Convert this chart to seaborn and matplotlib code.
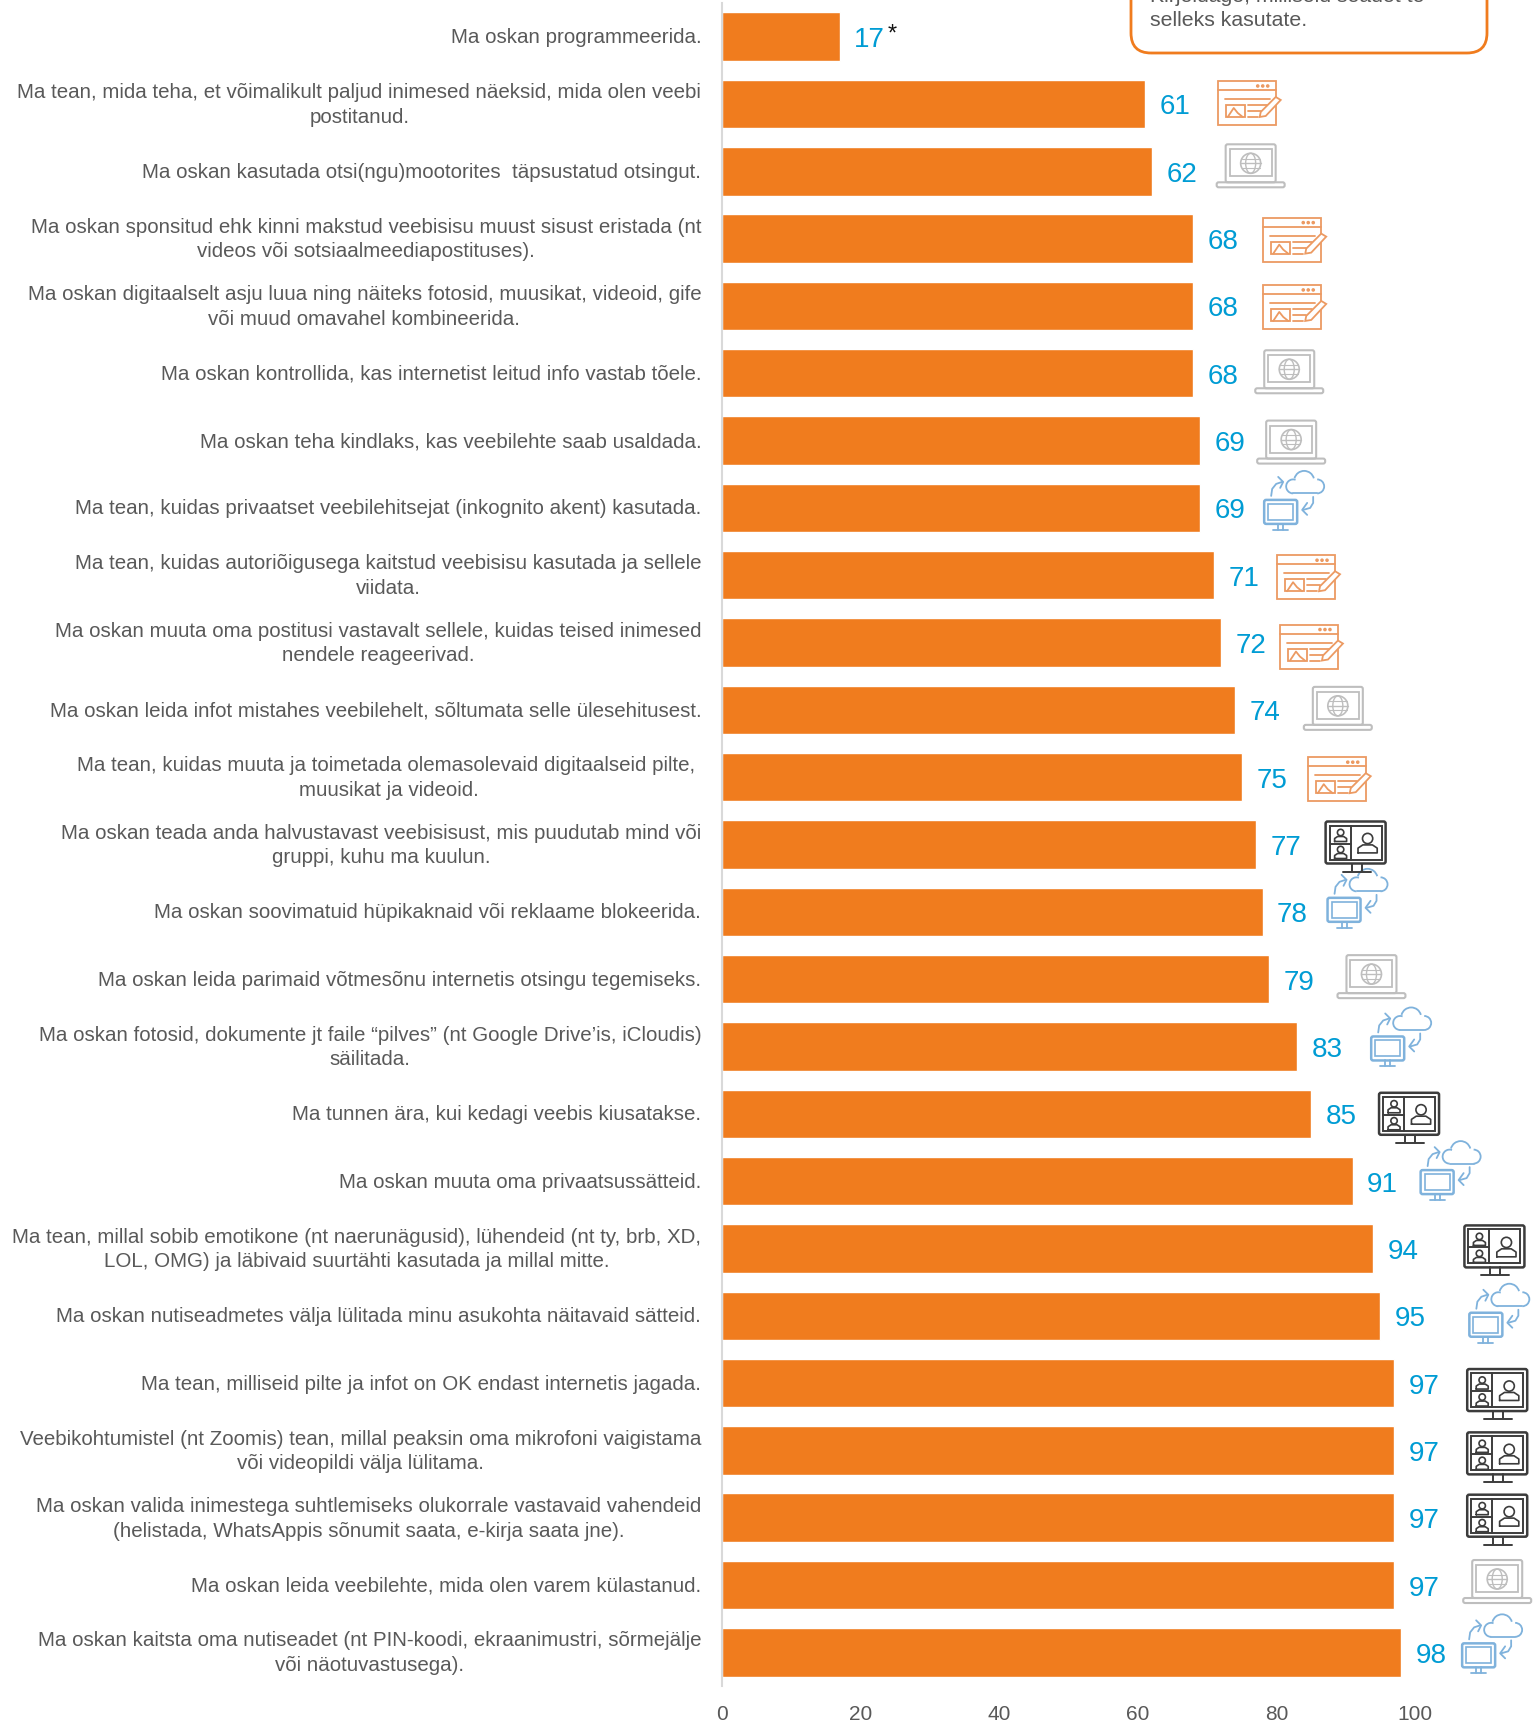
import matplotlib
matplotlib.use('Agg')
import matplotlib.pyplot as plt
import numpy as np
import pandas as pd
import seaborn as sns
from matplotlib.lines import Line2D
from matplotlib.patches import Circle, Ellipse, FancyBboxPatch, Rectangle, Arc, Polygon
from matplotlib.transforms import Affine2D

labels = [
    'Ma oskan programmeerida.',
    'Ma tean, mida teha, et võimalikult paljud inimesed näeksid, mida olen veebi\npostitanud.',
    'Ma oskan kasutada otsi(ngu)mootorites  täpsustatud otsingut.',
    'Ma oskan sponsitud ehk kinni makstud veebisisu muust sisust eristada (nt\nvideos või sotsiaalmeediapostituses).',
    'Ma oskan digitaalselt asju luua ning näiteks fotosid, muusikat, videoid, gife\nvõi muud omavahel kombineerida.',
    'Ma oskan kontrollida, kas internetist leitud info vastab tõele.',
    'Ma oskan teha kindlaks, kas veebilehte saab usaldada.',
    'Ma tean, kuidas privaatset veebilehitsejat (inkognito akent) kasutada.',
    'Ma tean, kuidas autoriõigusega kaitstud veebisisu kasutada ja sellele\nviidata.',
    'Ma oskan muuta oma postitusi vastavalt sellele, kuidas teised inimesed\nnendele reageerivad.',
    'Ma oskan leida infot mistahes veebilehelt, sõltumata selle ülesehitusest.',
    'Ma tean, kuidas muuta ja toimetada olemasolevaid digitaalseid pilte, \nmuusikat ja videoid.',
    'Ma oskan teada anda halvustavast veebisisust, mis puudutab mind või\ngruppi, kuhu ma kuulun.',
    'Ma oskan soovimatuid hüpikaknaid või reklaame blokeerida.',
    'Ma oskan leida parimaid võtmesõnu internetis otsingu tegemiseks.',
    'Ma oskan fotosid, dokumente jt faile “pilves” (nt Google Drive’is, iCloudis)\nsäilitada.',
    'Ma tunnen ära, kui kedagi veebis kiusatakse.',
    'Ma oskan muuta oma privaatsussätteid.',
    'Ma tean, millal sobib emotikone (nt naerunägusid), lühendeid (nt ty, brb, XD,\nLOL, OMG) ja läbivaid suurtähti kasutada ja millal mitte.',
    'Ma oskan nutiseadmetes välja lülitada minu asukohta näitavaid sätteid.',
    'Ma tean, milliseid pilte ja infot on OK endast internetis jagada.',
    'Veebikohtumistel (nt Zoomis) tean, millal peaksin oma mikrofoni vaigistama\nvõi videopildi välja lülitama.',
    'Ma oskan valida inimestega suhtlemiseks olukorrale vastavaid vahendeid\n(helistada, WhatsAppis sõnumit saata, e-kirja saata jne).',
    'Ma oskan leida veebilehte, mida olen varem külastanud.',
    'Ma oskan kaitsta oma nutiseadet (nt PIN-koodi, ekraanimustri, sõrmejälje\nvõi näotuvastusega).',
]
values = [17, 61, 62, 68, 68, 68, 69, 69, 71, 72, 74, 75, 77, 78, 79, 83, 85, 91, 94, 95, 97, 97, 97, 97, 98]
icons = [None, 'doc', 'laptop', 'doc', 'doc', 'laptop', 'laptop', 'cloud', 'doc', 'doc', 'laptop', 'doc', 'video',
         'cloud', 'laptop', 'cloud', 'video', 'cloud', 'video', 'cloud', 'video', 'video', 'video', 'laptop', 'cloud']
xticks = [0, 20, 40, 60, 80, 100]

# icon offset from the bar end / row centre, in pixels
icon_dx = [0, 104, 99, 101, 101, 96, 91, 94, 94, 90, 103, 97, 100, 95, 102, 104, 98, 98, 121, 119, 103, 103, 103, 103, 91]
icon_dy = [0, -1, -5, 1, 1, -1, 2, -8, 2, 4, -1, 2, 2, -14, -2, -10, 4, -11, 2, -3, 11, 7, 2, -3, -9]

ORANGE = '#F07C1E'
BLUE = '#009CD4'
GREY = '#595959'
W, H = 1533, 1724

sns.set_theme(style='white')
plt.rcParams['font.family'] = ['Liberation Sans', 'DejaVu Sans']

fig = plt.figure(figsize=(W / 100, H / 100), dpi=100)
ax = fig.add_axes([722 / W, 1 - 1687 / H, (W - 722) / W, (1687 - 4) / H])

df = pd.DataFrame({'label': labels, 'value': values})
sns.barplot(data=df, x='value', y='label', orient='h', color=ORANGE, saturation=1, width=0.72, ax=ax)
ax.set_xlim(0, (W - 722) / 6.93)
ax.set_ylim(24.5, -0.5)
ax.set_xlabel('')
ax.set_ylabel('')
ax.set_xticks(xticks)
ax.tick_params(axis='x', length=0, pad=13, labelsize=15, labelcolor=GREY)
ax.tick_params(axis='y', length=0, pad=15, labelsize=14.75, labelcolor=GREY)
for t in ax.get_yticklabels():
    t.set_multialignment('center')
    t.set_linespacing(1.38)
    t.set_verticalalignment('center')
sns.despine(ax=ax, top=True, right=True, bottom=True)
ax.spines['left'].set_color('#D9D9D9')
ax.spines['left'].set_linewidth(1.5)

for i, v in enumerate(values):
    ax.annotate(str(v), (v, i), xytext=(30 * 0.72, -1.8), textcoords='offset points', ha='center', va='center',
                fontsize=20, color=BLUE)
ax.annotate('*', (17, 0), xytext=(52 * 0.72, 2), textcoords='offset points', ha='center', va='center',
            fontsize=17, color='#111111')


def add(artist, cx, cy):
    artist.set_transform(Affine2D().translate(cx, cy))
    artist.set_clip_on(False)
    fig.add_artist(artist)


def seg(xs, ys, color, cx, cy, lw=1.3):
    add(Line2D(xs, ys, color=color, lw=lw, solid_capstyle='round'), cx, cy)


def box(x, y, w, h, color, cx, cy, lw=1.3):
    add(Rectangle((x, y), w, h, fill=False, ec=color, lw=lw), cx, cy)


def round_box(x, y, w, h, color, cx, cy, lw=1.5):
    add(FancyBboxPatch((x, y), w, h, boxstyle='round,pad=0,rounding_size=2', fill=False, ec=color, lw=lw), cx, cy)


def doc_icon(cx, cy):
    c = '#EC9A62'
    box(-31, -22, 58, 44, c, cx, cy)
    seg([-31, 27], [13, 13], c, cx, cy)
    for dx in [9, 14, 19]:
        add(Circle((dx, 17), 1.1, color=c), cx, cy)
    seg([-24, 21], [4, 4], c, cx, cy)
    box(-23, -14, 19, 12, c, cx, cy)
    seg([-21, -15, -11, -6], [-14, -5, -10, -14], c, cx, cy)
    for y, x2 in [(-2, 18), (-8, 12), (-14, 9)]:
        seg([-1, x2], [y, y], c, cx, cy)
    add(Polygon([(12, -9), (27, 6), (32, 3), (17, -13), (11, -14)], fc='white', ec=c, lw=1.3), cx, cy)


def laptop_icon(cx, cy):
    c = '#BEBEBE'
    round_box(-25, -16, 50, 38, c, cx, cy)
    box(-21, -10, 42, 27, c, cx, cy)
    round_box(-34, -21, 68, 5, c, cx, cy)
    add(Circle((0, 3), 10, fill=False, ec=c, lw=1.2), cx, cy)
    add(Ellipse((0, 3), 10, 20, fill=False, ec=c, lw=1), cx, cy)
    seg([-10, 10], [3, 3], c, cx, cy, 1)
    seg([-9, 9], [7.5, 7.5], c, cx, cy, 0.8)
    seg([-9, 9], [-1.5, -1.5], c, cx, cy, 0.8)


def person(px, py, s, c, cx, cy):
    add(Circle((px, py), 3.2 * s, fill=False, ec=c, lw=1.2), cx, cy)
    seg([px - 6 * s, px - 6 * s, px - 3 * s, px + 3 * s, px + 6 * s, px + 6 * s, px - 6 * s],
        [py - 9 * s, py - 6 * s, py - 4 * s, py - 4 * s, py - 6 * s, py - 9 * s, py - 9 * s], c, cx, cy, 1.2)


def video_icon(cx, cy):
    c = '#3C3C3C'
    round_box(-30, -17, 60, 42, c, cx, cy, 1.8)
    box(-26, -13, 52, 34, c, cx, cy, 1.4)
    seg([-5, -5], [-13, 21], c, cx, cy, 1.4)
    seg([-26, -5], [3, 3], c, cx, cy, 1.4)
    seg([-4, -4], [-17, -24], c, cx, cy, 1.4)
    seg([6, 6], [-17, -24], c, cx, cy, 1.4)
    seg([-13, 15], [-25, -25], c, cx, cy, 1.4)
    person(-15, 14, 1, c, cx, cy)
    person(-15, -3, 1, c, cx, cy)
    person(12, 8, 1.6, c, cx, cy)


def cloud_icon(cx, cy):
    c = '#7FB2DC'
    round_box(-30, -24, 33, 24, c, cx, cy, 1.8)
    box(-26, -20, 25, 16, c, cx, cy, 1.2)
    seg([-16, -16], [-24, -30], c, cx, cy)
    seg([-11, -11], [-24, -30], c, cx, cy)
    seg([-21, -6], [-30, -30], c, cx, cy)
    # cloud outline
    add(Arc((-1, 13.5), 14, 14, theta1=70, theta2=270, ec=c, lw=1.3), cx, cy)
    add(Arc((10, 19), 20, 20, theta1=15, theta2=165, ec=c, lw=1.3), cx, cy)
    add(Arc((23, 13.5), 14, 14, theta1=-90, theta2=90, ec=c, lw=1.3), cx, cy)
    seg([-1, 23], [6.5, 6.5], c, cx, cy)
    # arrows
    seg([-23, -22, -18, -12], [4, 11, 16, 18], c, cx, cy)
    seg([-16, -11, -14], [23, 18, 12], c, cx, cy)
    seg([19, 19, 16, 9], [3, -3, -8, -10], c, cx, cy)
    seg([13, 8, 13], [-3, -10, -15], c, cx, cy)


draw_icon = {'doc': doc_icon, 'laptop': laptop_icon, 'video': video_icon, 'cloud': cloud_icon}
for i, (v, kind) in enumerate(zip(values, icons)):
    if kind is None:
        continue
    px, py = ax.transData.transform((v, i))
    draw_icon[kind](px + icon_dx[i], py - icon_dy[i])

# callout box, cut off by the top edge
fig.add_artist(FancyBboxPatch((1131, H - 54), 356, 90, boxstyle='round,pad=0,rounding_size=20', fill=False,
                              ec=ORANGE, lw=2, transform=Affine2D(), clip_on=False))
fig.text(1150 / W, 1 - 26.5 / H, 'selleks kasutate.', fontsize=15.3, color=GREY, ha='left', va='baseline')
fig.text(1150 / W, 1 - 1.5 / H, 'Kirjeldage, milliseid seadet te', fontsize=15.3, color=GREY, ha='left', va='baseline')

fig.savefig('out.png', dpi=100)
